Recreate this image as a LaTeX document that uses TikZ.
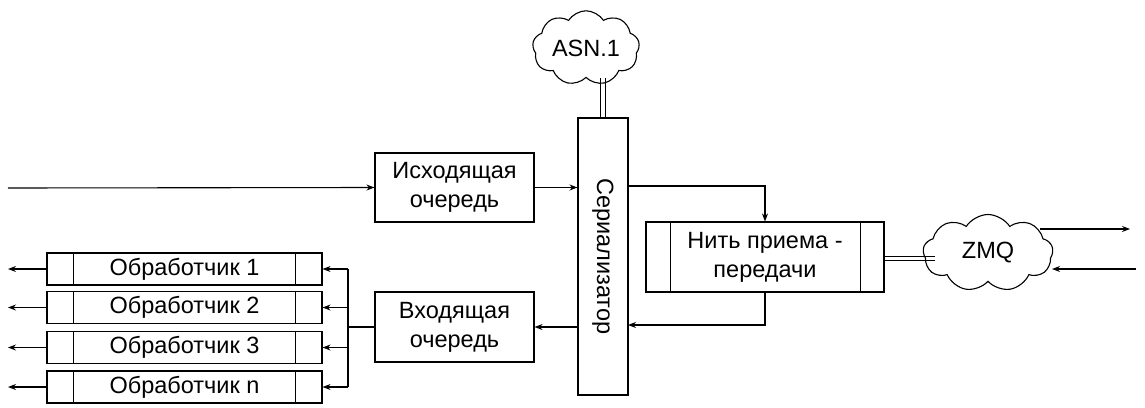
\documentclass[tikz,border=0pt]{standalone}
\usepackage{fontspec}
\setmainfont{Liberation Sans}
\usetikzlibrary{shapes.symbols,arrows.meta}
\begin{document}
\begin{tikzpicture}[x=1pt,y=-1pt,line width=1.1pt,
  every node/.style={font=\fontsize{23.5}{29}\selectfont},
  box/.style={draw,rectangle,inner sep=0pt,align=center},
  cl/.style={draw,cloud,cloud puffs=9,cloud puff arc=115,inner sep=0pt,aspect=1.6},
  arr/.style={-{Stealth[length=8pt,width=6pt]}},
  dline/.style={line width=1pt}
]
\useasboundingbox (0,0) rectangle (1145,407);
% serializer
\node[box,minimum width=50,minimum height=277] (ser) at (603,256.5) {};
\node[rotate=-90] (serl) at (ser.center) {Сериализатор};
% ASN.1
\node[cl,minimum width=107,minimum height=67] (asn) at (586,48) {ASN.1};
\draw[dline] ([xshift=-2.2]asn.south -| ser.north) -- ([xshift=-2.2]ser.north);
\draw[dline] ([xshift=2.2]asn.south -| ser.north) -- ([xshift=2.2]ser.north);
% queues
\node[box,minimum width=159,minimum height=69] (out) at (454.5,187.5) {Исходящая\\очередь};
\node[box,minimum width=159,minimum height=70] (in) at (454.5,327) {Входящая\\очередь};
% thread
\node[box,minimum width=238,minimum height=70] (thr) at (765,257) {Нить приема -\\передачи};
\draw ([xshift=25]thr.north west) -- ([xshift=25]thr.south west);
\draw ([xshift=-24]thr.north east) -- ([xshift=-24]thr.south east);
% ZMQ
\node[cl,minimum width=130,minimum height=77] (zmq) at (988,253) {ZMQ};
% handlers
\foreach \n/\y/\t in {h1/269/Обработчик 1,h2/307.5/Обработчик 2,h3/347.5/Обработчик 3,hn/387/Обработчик n}{
  \node[box,minimum width=275,minimum height=32] (\n) at (184.5,\y) {\t};
  \draw ([xshift=27]\n.north west) -- ([xshift=27]\n.south west);
  \draw ([xshift=-27]\n.north east) -- ([xshift=-27]\n.south east);
  \coordinate (\n o) at (8,\y);
  \draw[arr] (\n.west) -- (\n o);
}
% coordinates
\coordinate (src) at (8,188);
\coordinate (busT) at (348,269);
\coordinate (busB) at (348,387);
\coordinate (sero) at (628,186);
\coordinate (seri) at (628,325);
\coordinate (zl) at (935,258);
\coordinate (zo1) at (1040,229);
\coordinate (zo2) at (1130,229);
\coordinate (zi1) at (1136,269);
\coordinate (zi2) at (1052,269);
% connectors
\draw[arr] (src) -- (out.west);
\draw[arr] (out.east) -- (out.east -| ser.west);
\draw[arr] (sero) -| (thr.north);
\draw[arr] (thr.south) |- (seri);
\draw[arr] (ser.west |- in.east) -- (in.east);
\draw (in.west) -- (in.west -| busT);
\draw[line width=1.9pt] (busT) -- (busB);
\foreach \n in {h1,h2,h3,hn}{
  \draw[arr] (\n.east -| busT) -- (\n.east);
}
\draw[dline] ([yshift=-2]thr.east |- zl) -- ([yshift=-2]zl);
\draw[dline] ([yshift=2]thr.east |- zl) -- ([yshift=2]zl);
\draw[arr] (zo1) -- (zo2);
\draw[arr] (zi1) -- (zi2);
\end{tikzpicture}
\end{document}
